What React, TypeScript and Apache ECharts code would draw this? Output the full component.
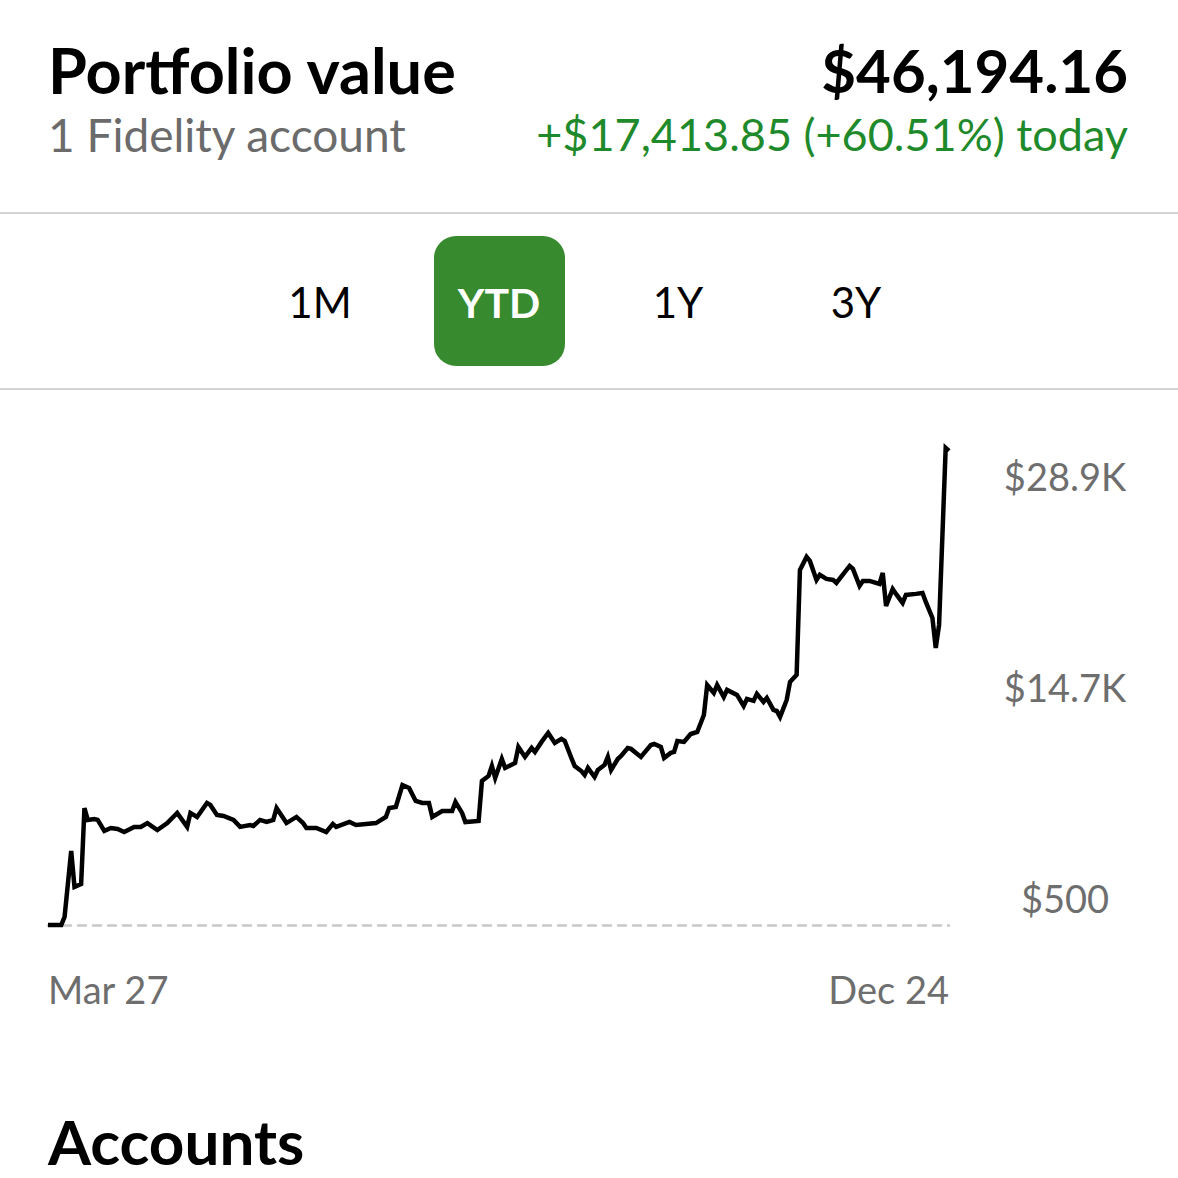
import React, { useEffect, useRef } from "react";
import * as echarts from "echarts";

// Days since Mar 27 and portfolio value (USD)
const days = [0,2,3,4,5,7,8,10,11,12,14,15,17,19,21,23,26,28,30,33,36,39,42,43,45,48,49,51,53,56,58,61,62,64,66,68,69,71,72,75,77,78,81,84,86,87,91,93,96,99,102,103,105,107,109,111,113,115,116,119,122,123,125,126,130,131,133,134,135,137,138,141,142,144,146,147,149,151,153,155,156,158,159,161,162,163,165,166,168,169,170,172,173,175,176,179,180,182,183,185,186,188,189,190,192,194,195,196,198,199,201,202,204,205,208,210,211,213,214,216,217,219,220,221,223,224,226,227,229,230,232,233,235,237,238,242,243,245,246,248,251,252,253,255,256,258,259,262,264,265,267,268,269,271,272];
const values = [500,500,500,500,1040,5480,3060,3260,8370,7570,7630,7570,6830,7030,6960,6760,7100,7100,7360,6890,7360,8040,7100,8040,7770,8710,8580,7900,7840,7570,7100,7230,7160,7570,7430,7570,8370,7700,7360,7770,7360,7030,7030,6760,7300,7100,7430,7230,7300,7360,7770,8370,8440,9920,9720,8850,8710,8710,7770,8170,8170,8780,8040,7430,7500,10190,10530,11200,10390,11670,11070,11400,12480,11810,12410,12140,12820,13420,12750,13020,12880,11740,11200,10860,10600,11070,10460,10930,11270,11810,10930,11670,11870,12410,12350,11810,12080,12610,12680,12480,11740,12080,12140,12880,12820,13350,13420,13490,14630,16650,16110,16650,15840,16320,15980,15240,15710,15580,16050,15510,15780,14970,14900,14500,15640,16850,17330,24390,25270,25000,23720,24060,23790,23720,23520,24660,24460,23320,23650,23650,23450,24190,21970,23110,22780,22170,22710,22780,22840,22240,21160,19140,20690,32600,32400];

const xTickDays = [0, 272];
const xTickLabels = ["Mar 27", "Dec 24"];
const yTickValues = [500, 14700, 28900];
const yTickLabels = ["$500", "$14.7K", "$28.9K"];

const ranges = ["1M", "YTD", "1Y", "3Y"];
const selectedRange = "YTD";

const title = "Portfolio value";
const subtitle = "1 Fidelity account";
const totalValue = "$46,194.16";
const change = "+$17,413.85 (+60.51%) today";
const sectionTitle = "Accounts";

const FONT = "Lato, 'Noto Sans', sans-serif";

export default function App() {
  const ref = useRef<HTMLDivElement>(null);
  useEffect(() => {
    if (!ref.current) return;
    const chart = echarts.init(ref.current, null, { renderer: "svg" });
    const data = days.map((d, i) => [d, values[i]]);
    const rangeX = [320, 499, 678, 856];
    const graphic: any[] = [
      { type: "text", left: 48, top: 38, style: { text: title, font: `bold 63px ${FONT}`, fill: "#000" } },
      { type: "text", right: 50, top: 40, style: { text: totalValue, font: `bold 60px ${FONT}`, fill: "#000" } },
      { type: "text", left: 48, top: 111, style: { text: subtitle, font: `400 46px ${FONT}`, fill: "#6b6b6b" } },
      { type: "text", right: 50, top: 111, style: { text: change, font: `400 45px ${FONT}`, fill: "#1f8a2b" } },
      { type: "line", shape: { x1: 0, y1: 213, x2: 1178, y2: 213 }, style: { stroke: "#d4d4d4", lineWidth: 2 } },
      { type: "line", shape: { x1: 0, y1: 389, x2: 1178, y2: 389 }, style: { stroke: "#d4d4d4", lineWidth: 2 } },
      {
        type: "text",
        x: 48,
        y: 1141,
        style: { text: sectionTitle, font: `bold 62px ${FONT}`, fill: "#000", verticalAlign: "middle", align: "left" },
      },
    ];
    ranges.forEach((r, i) => {
      const sel = r === selectedRange;
      if (sel) {
        graphic.push({ type: "rect", shape: { x: rangeX[i] - 65, y: 236, width: 131, height: 130, r: 22 }, style: { fill: "#378a2e" } });
      }
      graphic.push({
        type: "text",
        x: rangeX[i],
        y: 302,
        style: {
          text: r,
          font: sel ? `bold 41px ${FONT}` : `400 42px ${FONT}`,
          fill: sel ? "#fff" : "#000",
          align: "center",
          verticalAlign: "middle",
        },
      });
    });

    chart.setOption({
      animation: false,
      backgroundColor: "#fff",
      grid: { left: 48, right: 229, top: 442, bottom: 253, containLabel: false },
      xAxis: {
        type: "value",
        min: 0,
        max: 272,
        interval: 272,
        axisLine: { show: true, onZero: false, lineStyle: { color: "#c8c8c8", width: 2.5, type: [8, 7] } },
        axisTick: { show: false },
        splitLine: { show: false },
        axisLabel: {
          margin: 45,
          fontFamily: FONT,
          fontSize: 38,
          color: "#6e6e6e",
          alignMinLabel: "left",
          alignMaxLabel: "right",
          formatter: (v: number) => {
            const i = xTickDays.indexOf(v);
            return i >= 0 ? xTickLabels[i] : "";
          },
        },
      },
      yAxis: {
        type: "value",
        position: "right",
        min: 500,
        max: 33000,
        interval: 14200,
        axisLine: { show: false },
        axisTick: { show: false },
        splitLine: { show: false },
        axisLabel: {
          margin: 116,
          align: "center",
          verticalAlign: "bottom",
          padding: [0, 0, 8, 0],
          fontFamily: FONT,
          fontSize: 38,
          color: "#6e6e6e",
          formatter: (v: number) => {
            const i = yTickValues.indexOf(v);
            return i >= 0 ? yTickLabels[i] : "";
          },
        },
      },
      graphic,
      series: [
        {
          type: "line",
          data,
          showSymbol: false,
          symbol: "none",
          clip: false,
          lineStyle: { color: "#000", width: 4.5, join: "miter" },
        },
      ],
    });
    return () => chart.dispose();
  }, []);
  return <div ref={ref} style={{ position: "fixed", left: 0, top: 0, width: 1178, height: 1178 }} />;
}
